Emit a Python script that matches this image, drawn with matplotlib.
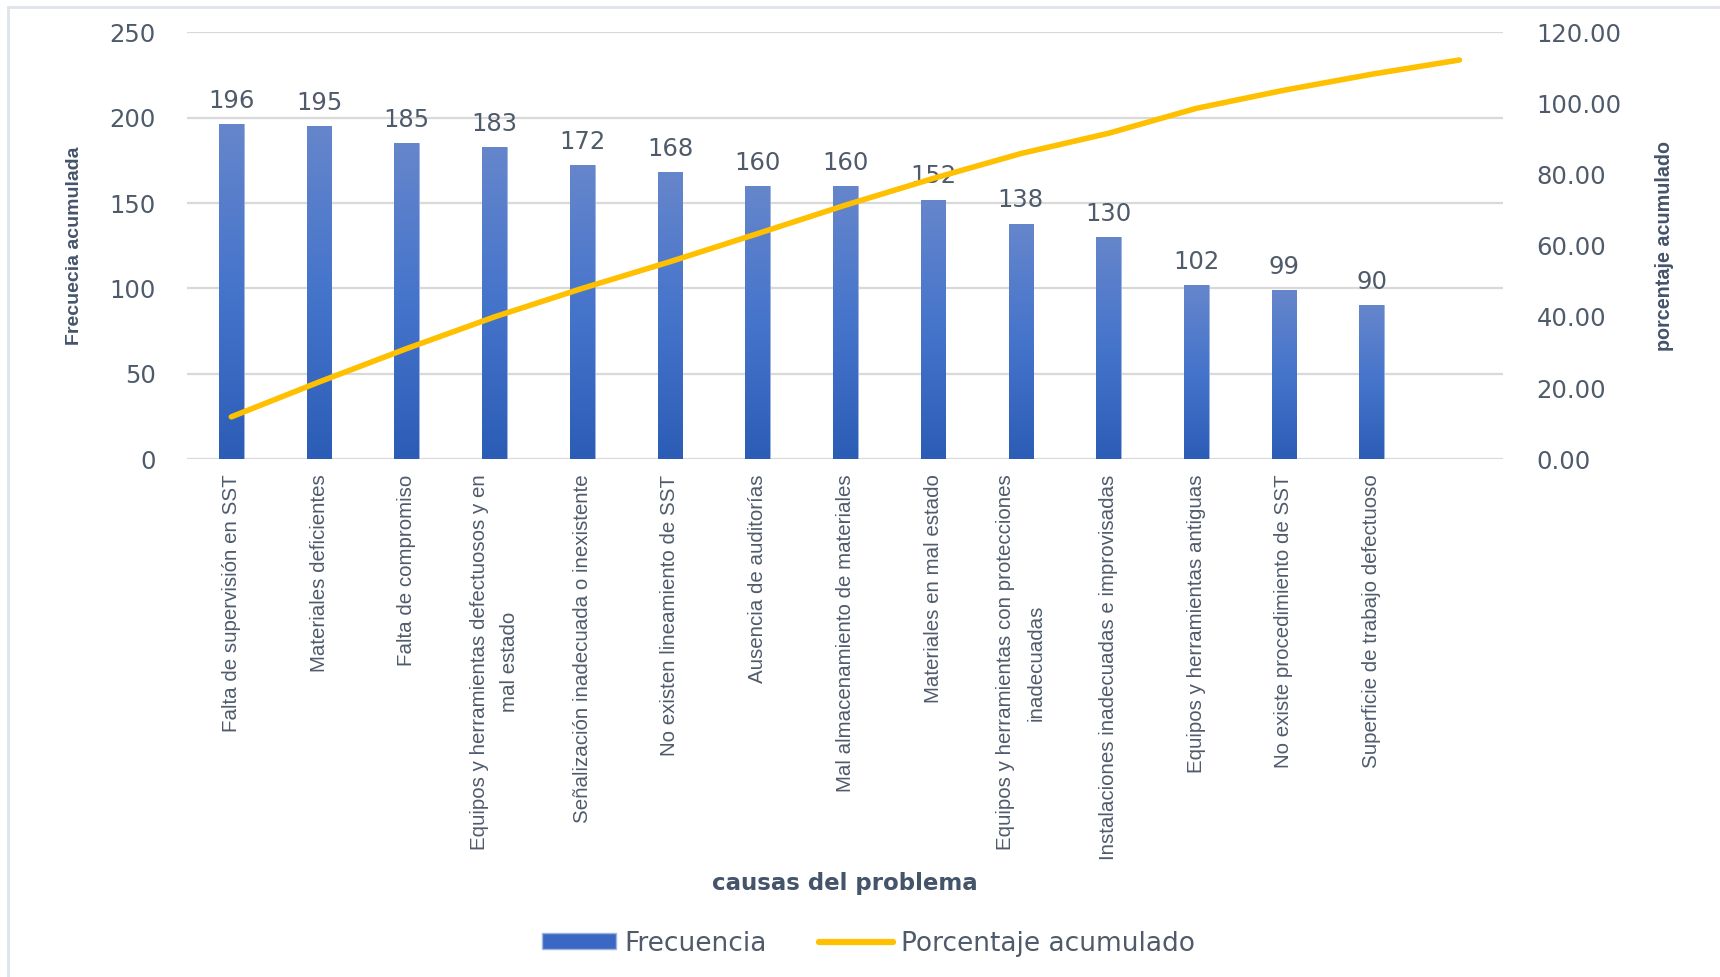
import matplotlib
matplotlib.use("Agg")
import matplotlib.pyplot as plt
import numpy as np
from matplotlib.lines import Line2D
from matplotlib.patches import Patch
from matplotlib.colors import LinearSegmentedColormap

categories = [
    "Falta de supervisión en SST",
    "Materiales deficientes",
    "Falta de compromiso",
    "Equipos y herramientas defectuosos y en\nmal estado",
    "Señalización inadecuada o inexistente",
    "No existen lineamiento de SST",
    "Ausencia de auditorías",
    "Mal almacenamiento de materiales",
    "Materiales en mal estado",
    "Equipos y herramientas con protecciones\ninadecuadas",
    "Instalaciones inadecuadas e improvisadas",
    "Equipos y herramientas antiguas",
    "No existe procedimiento de SST",
    "Superficie de trabajo defectuoso",
    "",
]
frecuencia = [196, 195, 185, 183, 172, 168, 160, 160, 152, 138, 130, 102, 99, 90]
porcentaje = [11.9, 21.7, 31.1, 40.0, 48.0, 55.5, 63.4, 71.4, 78.9, 85.9,
              91.6, 98.6, 103.7, 108.2, 112.2]
left_ticks = [0, 50, 100, 150, 200, 250]
right_ticks = [0, 20, 40, 60, 80, 100, 120]

TXT = "#4f5b6b"
GRID = "#d9d9d9"

fig = plt.figure(figsize=(17.2, 9.77), dpi=100)
ax = fig.add_axes([0.109, 0.530, 0.765, 0.437])

n = len(categories)
x = np.arange(n)
bars = ax.bar(x[:len(frecuencia)], frecuencia, width=0.28, color="#3f6cc4",
              edgecolor="#9fb5e0", linewidth=0.6, zorder=2)

cmap = LinearSegmentedColormap.from_list("g", ["#2c5db6", "#4574cb", "#6686cc"])
grad = np.linspace(0, 1, 256).reshape(-1, 1)
for b in bars:
    x0 = b.get_x()
    w, h = b.get_width(), b.get_height()
    im = ax.imshow(grad, extent=[x0, x0 + w, 0, h], origin="lower", aspect="auto",
                   cmap=cmap, zorder=2.5, interpolation="bilinear")
    im.set_clip_path(b)

for xi, v in zip(x, frecuencia):
    ax.annotate(str(v), (xi, v), xytext=(0, 8), textcoords="offset points",
                ha="center", va="bottom", fontsize=17.5, color=TXT,
                family="DejaVu Sans", zorder=4)

ax.set_xlim(-0.5, n - 0.5)
ax.set_ylim(0, 250)
ax.set_yticks(left_ticks)
ax.set_yticklabels([str(t) for t in left_ticks], fontsize=17.5, color=TXT,
                   family="DejaVu Sans")
ax.tick_params(axis="y", length=0, pad=23)
ax.set_xticks(x)
ax.set_xticklabels(categories, rotation=90, fontsize=14.8, color=TXT,
                   family="Liberation Sans", multialignment="center",
                   linespacing=1.75)
ax.tick_params(axis="x", length=0, pad=11)
ax.yaxis.grid(True, color=GRID, lw=1.6, zorder=0)
ax.set_axisbelow(True)
for s in ax.spines.values():
    s.set_visible(False)

ax2 = ax.twinx()
ax2.plot(x, porcentaje, color="#FFC000", lw=4.0, solid_capstyle="round", zorder=5)
ax2.set_ylim(0, 120)
ax2.set_yticks(right_ticks)
ax2.set_yticklabels([f"{t:.2f}" for t in right_ticks], fontsize=17.5, color=TXT,
                    family="DejaVu Sans")
ax2.tick_params(axis="y", length=0, pad=24)
for s in ax2.spines.values():
    s.set_visible(False)

fig.text(0.0436, 0.748, "Frecuecia acumulada", rotation=90, ha="center", va="center",
         fontsize=14, fontweight="bold", color="#44546a", family="Liberation Sans")
fig.text(0.968, 0.748, "porcentaje acumulado", rotation=90, ha="center", va="center",
         fontsize=14.2, fontweight="bold", color="#44546a", family="Liberation Sans")
fig.text(0.491, 0.096, "causas del problema", ha="center", va="center",
         fontsize=16.5, fontweight="bold", color="#44546a", family="DejaVu Sans")

handles = [Patch(facecolor="#3a68c2", edgecolor="#9fb5e0", label="Frecuencia"),
           Line2D([0], [0], color="#FFC000", lw=4.5, solid_capstyle="round",
                  label="Porcentaje acumulado")]
leg = fig.legend(handles=handles, loc="center", bbox_to_anchor=(0.505, 0.034),
                 ncol=2, frameon=False, handlelength=2.8,
                 handleheight=0.55, handletextpad=0.3, columnspacing=2.0,
                 prop={"family": "DejaVu Sans", "size": 19})
for t in leg.get_texts():
    t.set_color(TXT)

# outer chart border
fig.add_artist(Line2D([8 / 1720, 8 / 1720], [0, 1 - 7 / 977], transform=fig.transFigure,
                      color="#dfe3ea", lw=2))
fig.add_artist(Line2D([8 / 1720, 1], [1 - 7 / 977, 1 - 7 / 977], transform=fig.transFigure,
                      color="#dfe3ea", lw=2))

fig.savefig("out.png", dpi=100)
